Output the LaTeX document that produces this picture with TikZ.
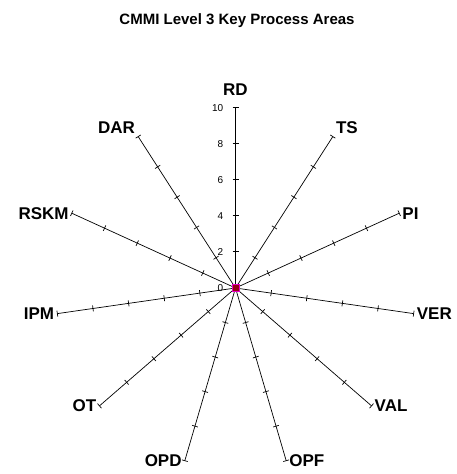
\documentclass[tikz,border=0pt]{standalone}
\usepackage{fontspec}
\setmainfont{Liberation Sans}
\definecolor{markred}{RGB}{150,0,20}
\definecolor{markedge}{RGB}{230,0,200}
\usetikzlibrary{calc, positioning}

\begin{document}
\begin{tikzpicture}[x=1pt, y=1pt,
    spoke/.style={line width=0.7pt},
    mainspoke/.style={line width=1.4pt},
    axlabel/.style={font=\fontsize{17}{17}\selectfont\bfseries, inner sep=3pt},
    ticklabel/.style={font=\fontsize{10}{10}\selectfont, anchor=east, inner sep=0pt},
    centremark/.style={draw=markedge, fill=markred, line width=0.8pt, minimum size=7pt, inner sep=0pt}]
  \useasboundingbox (0,0) rectangle (457,474);
  \node[font=\fontsize{15}{15}\selectfont\bfseries] (title) at (237,453) {CMMI Level 3 Key Process Areas};
  \coordinate (o) at (235.5,186);
  % the ten plain spokes, 360/11 degrees apart
  \foreach \name/\ang/\anc in {TS/57.27/south west, PI/24.55/west, VER/-8.18/west,
      VAL/-40.91/west, OPF/-73.64/west, OPD/-106.36/east, OT/-139.09/east,
      IPM/-171.82/east, RSKM/155.45/east, DAR/122.73/south east}{
    \coordinate (e\name) at ($(o)+(\ang:180)$);
    \draw[spoke] (o) -- (e\name);
    \node[axlabel, anchor=\anc] (l\name) at (e\name) {\name};
    \foreach \k in {2,4,...,10}
      \draw[spoke] ($(o)+(\ang:18*\k)+({\ang+90}:3)$) -- ($(o)+(\ang:18*\k)+({\ang-90}:3)$);
  }
  % value axis
  \coordinate (eRD) at ($(o)+(90:180)$);
  \draw[mainspoke] (o) -- (eRD);
  \node[axlabel, anchor=south, above=9pt of eRD] (lRD) {RD};
  \foreach \k in {0,2,...,10}{
    \ifnum\k>0
      \draw[mainspoke, line width=1pt] ($(o)+(-3,18*\k)$) -- ($(o)+(3,18*\k)$);
    \fi
    \node[ticklabel] (v\k) at ($(o)+(-12,18*\k)$) {\k};
  }
  \node[centremark] (centre) at (o) {};
\end{tikzpicture}
\end{document}
